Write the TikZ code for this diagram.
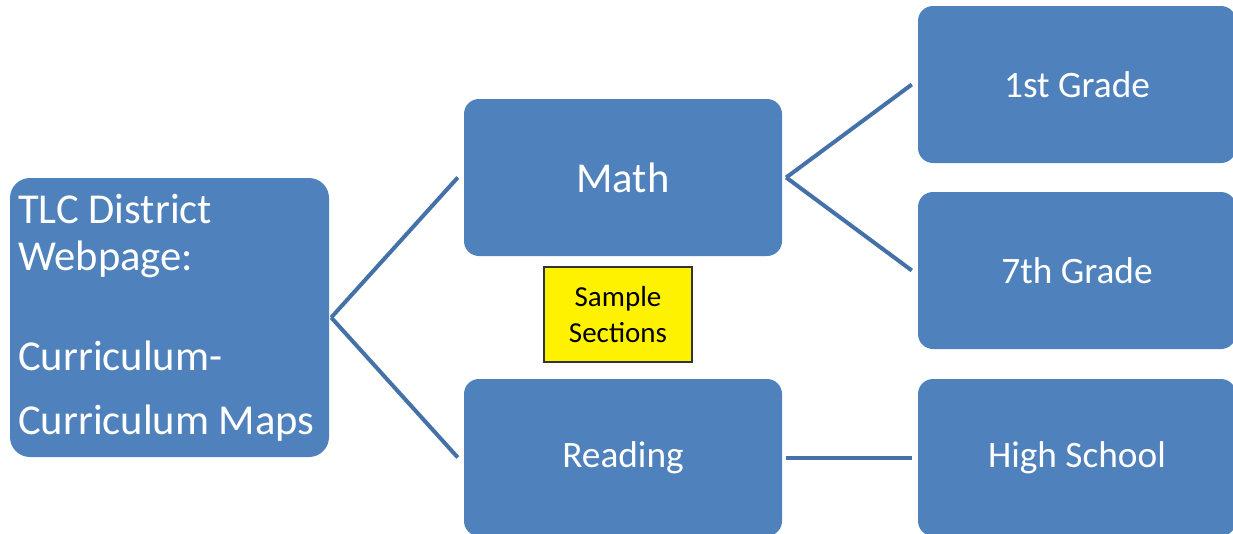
\documentclass[tikz,border=0pt]{standalone}
\usepackage{fontspec}
\setmainfont{Carlito}
\definecolor{boxblue}{HTML}{4F81BD}
\definecolor{lineblue}{HTML}{4472A8}
\begin{document}
\begin{tikzpicture}[x=1pt,y=-1pt,
  bluebox/.style={draw=none, fill=boxblue, rounded corners=15pt, text=white, inner sep=0pt},
  conn/.style={draw=lineblue, line width=4pt},
  labelbig/.style={text=white, font=\fontsize{42.6}{51}\selectfont, inner sep=0pt},
  labelmid/.style={text=white, font=\fontsize{37.3}{45}\selectfont, inner sep=0pt}]
\path[use as bounding box] (0,0) rectangle (1233,533);
\clip (0,0) rectangle (1233,533);
% boxes
\node[bluebox, rounded corners=20pt, minimum width=319pt, minimum height=279pt] (root) at (169.5,317.5) {};
\node[bluebox, minimum width=318pt, minimum height=157pt] (math) at (623,177.5) {};
\node[bluebox, minimum width=318pt, minimum height=157pt] (reading) at (623,457.5) {};
\node[bluebox, minimum width=318pt, minimum height=157pt] (g1) at (1077,84.5) {};
\node[bluebox, minimum width=318pt, minimum height=157pt] (g7) at (1077,270.5) {};
\node[bluebox, minimum width=318pt, minimum height=157pt] (hs) at (1077,457.5) {};
% sample sections
\node[draw=black!80, line width=1.2pt, fill=yellow, minimum width=148pt, minimum height=95pt, align=center, font=\fontsize{29}{36}\selectfont, inner sep=0pt] (sample) at (618,314.5) {Sample\\Sections};
% root text
\node[labelbig, anchor=base west] (r1) at (18,223) {TLC District};
\node[labelbig, anchor=base west] (r2) at (18,270) {Webpage:};
\node[labelbig, anchor=base west] (r3) at (18,370) {Curriculum-};
\node[labelbig, anchor=base west] (r4) at (18,434) {Curriculum Maps};
% labels
\node[labelbig] (mathlbl) at (math.center) {Math};
\node[labelmid] (readlbl) at (reading.center) {Reading};
\node[labelmid] (g1lbl) at (g1.center) {1st Grade};
\node[labelmid] (g7lbl) at (g7.center) {7th Grade};
\node[labelmid] (hslbl) at (hs.center) {High School};
% connectors
\draw[conn] ([xshift=2pt]root.east) -- ([xshift=-6pt]math.west);
\draw[conn] ([xshift=2pt]root.east) -- ([xshift=-6pt]reading.west);
\draw[conn] ([xshift=4pt]math.east) -- ([xshift=-6pt]g1.west);
\draw[conn] ([xshift=4pt]math.east) -- ([xshift=-6pt]g7.west);
\draw[conn] ([xshift=4pt]reading.east) -- ([xshift=-6pt]hs.west);
\end{tikzpicture}
\end{document}
